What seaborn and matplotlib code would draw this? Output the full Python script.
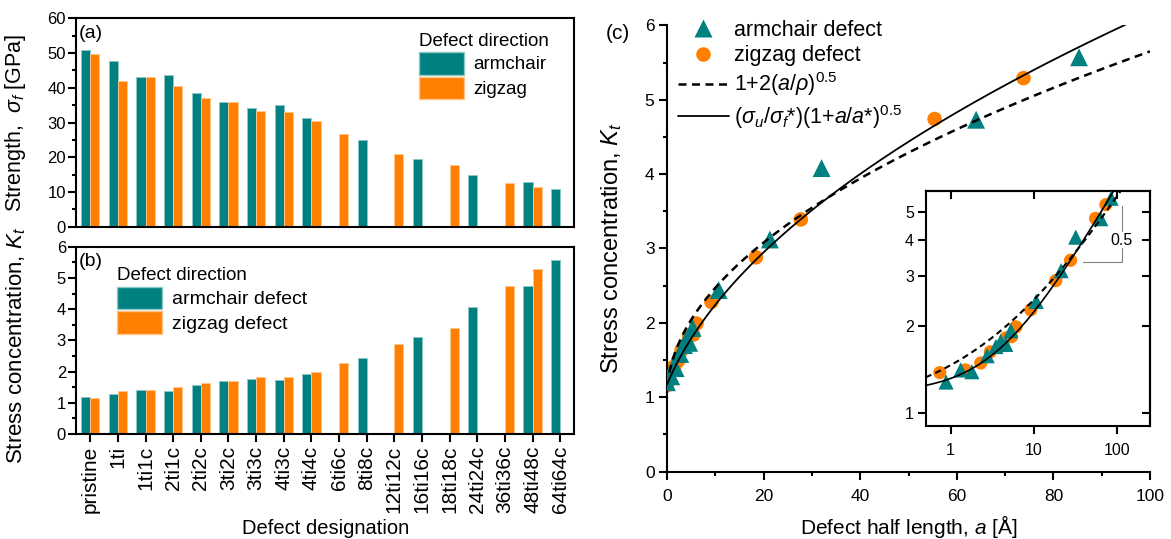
import numpy as np
import pandas as pd
import matplotlib
matplotlib.use("Agg")
import matplotlib.pyplot as plt
import seaborn as sns
from matplotlib.patches import Patch
from matplotlib.lines import Line2D
from matplotlib.ticker import MultipleLocator, FixedLocator, NullLocator, FixedFormatter
from matplotlib.colors import to_rgb

# ---------------- data ----------------
nan = np.nan
designations = ["pristine", "1ti", "1ti1c", "2ti1c", "2ti2c", "3ti2c", "3ti3c", "4ti3c",
                "4ti4c", "6ti6c", "8ti8c", "12ti12c", "16ti16c", "18ti18c", "24ti24c",
                "36ti36c", "48ti48c", "64ti64c"]
strength_armchair = [51.0, 47.8, 43.2, 43.7, 38.5, 35.9, 34.3, 35.1, 31.4, nan, 24.9, nan,
                     19.4, nan, 14.8, nan, 12.8, 10.8]
strength_zigzag = [49.7, 42.0, 43.0, 40.6, 37.2, 35.8, 33.3, 33.0, 30.4, 26.6, nan, 20.9,
                   nan, 17.8, nan, 12.7, 11.3, nan]
kt_armchair = [1.20, 1.28, 1.41, 1.39, 1.58, 1.70, 1.77, 1.73, 1.93, nan, 2.44, nan,
               3.12, nan, 4.08, nan, 4.73, 5.57]
kt_zigzag = [1.16, 1.38, 1.41, 1.49, 1.63, 1.70, 1.82, 1.84, 1.99, 2.28, nan, 2.88,
             nan, 3.39, nan, 4.74, 5.29, nan]
a_armchair = [0.0, 0.88, 1.32, 1.8, 2.75, 3.5, 4.0, 4.6, 5.3, nan, 10.7, nan,
              21.3, nan, 32.0, nan, 64.0, 85.3]
a_zigzag = [0.0, 0.74, 1.5, 2.3, 3.0, 3.9, 4.6, 5.4, 6.1, 9.2, nan, 18.4,
            nan, 27.7, nan, 55.4, 73.8, nan]

# fitted model parameters
RHO = 18.5        # notch radius for 1+2(a/rho)^0.5
KT0 = 1.17        # sigma_u / sigma_f*
A_STAR = 3.74     # a*

directions = ["armchair", "zigzag"]
TEAL = "#008080"
ORANGE = "#FF8000"
palette = {"armchair": TEAL, "zigzag": ORANGE}

# ---------------- style ----------------
sns.set_style("ticks")
plt.rcParams["font.family"] = ["Liberation Sans", "DejaVu Sans"]
plt.rcParams["mathtext.fontset"] = "custom"
plt.rcParams["mathtext.rm"] = "Liberation Sans"
plt.rcParams["mathtext.it"] = "Liberation Sans:italic"
plt.rcParams["mathtext.bf"] = "Liberation Sans:bold"
plt.rcParams["axes.linewidth"] = 1.5
for k in ("xtick.major.width", "ytick.major.width", "xtick.minor.width", "ytick.minor.width"):
    plt.rcParams[k] = 1.5
plt.rcParams["xtick.major.size"] = 5.5
plt.rcParams["ytick.major.size"] = 5.5
plt.rcParams["xtick.minor.size"] = 3
plt.rcParams["ytick.minor.size"] = 3
plt.rcParams["xtick.direction"] = "out"
plt.rcParams["ytick.direction"] = "out"
for k in ("text.color", "axes.edgecolor", "xtick.color", "ytick.color", "axes.labelcolor"):
    plt.rcParams[k] = "black"


def lighten(c, f=0.55):
    r, g, b = to_rgb(c)
    return (r + (1 - r) * f, g + (1 - g) * f, b + (1 - b) * f)


fig = plt.figure(figsize=(11.71, 5.39), dpi=100)
ax_a = fig.add_axes([0.0653, 0.5794, 0.4249, 0.3866])
ax_b = fig.add_axes([0.0653, 0.1948, 0.4249, 0.3475])
ax_c = fig.add_axes([0.5696, 0.1252, 0.4125, 0.8278])
ax_i = fig.add_axes([0.7905, 0.2096, 0.1915, 0.4360])

n = len(designations)
df_s = pd.DataFrame({"designation": designations * 2,
                     "direction": ["armchair"] * n + ["zigzag"] * n,
                     "value": strength_armchair + strength_zigzag})
df_k = pd.DataFrame({"designation": designations * 2,
                     "direction": ["armchair"] * n + ["zigzag"] * n,
                     "value": kt_armchair + kt_zigzag})

for ax, df in ((ax_a, df_s), (ax_b, df_k)):
    sns.barplot(data=df, x="designation", y="value", hue="direction",
                order=designations, hue_order=directions, palette=palette,
                width=0.66, saturation=1, errorbar=None, legend=False, ax=ax)
    for p in ax.patches:
        p.set_edgecolor(lighten(p.get_facecolor()))
        p.set_linewidth(0.7)
    ax.set_xlim(-0.5, n - 0.5)
    ax.set_xlabel("")
    for s in ax.spines.values():
        s.set_visible(True)
        s.set_linewidth(1.5)
    ax.tick_params(axis="y", which="both", labelsize=12, pad=2)

# panel (a)
ax_a.set_ylim(0, 60)
ax_a.yaxis.set_major_locator(MultipleLocator(10))
ax_a.yaxis.set_minor_locator(MultipleLocator(5))
ax_a.tick_params(axis="x", length=0, labelbottom=False)
ax_a.set_ylabel(r"Strength,  $\sigma_f$ [GPa]", fontsize=15.5)
ax_a.yaxis.set_label_coords(-0.0975, 0.5)
ax_a.text(0.004, 0.968, "(a)", transform=ax_a.transAxes, fontsize=14,
          ha="left", va="top")
ax_a.legend(handles=[Patch(facecolor=TEAL, edgecolor=lighten(TEAL)),
                     Patch(facecolor=ORANGE, edgecolor=lighten(ORANGE))],
            labels=["armchair", "zigzag"], title="Defect direction",
            loc="upper left", bbox_to_anchor=(0.688, 0.93), frameon=False,
            fontsize=13.5, title_fontsize=13.5, handlelength=2.4,
            handleheight=1.5, labelspacing=0.1, handletextpad=0.5,
            borderpad=0, borderaxespad=0, alignment="left")

# panel (b)
ax_b.set_ylim(0, 6)
ax_b.yaxis.set_major_locator(MultipleLocator(1))
ax_b.yaxis.set_minor_locator(MultipleLocator(0.5))
ax_b.set_xticks(range(n))
ax_b.set_xticklabels(designations, rotation=90, fontsize=15)
ax_b.tick_params(axis="x", pad=3)
ax_b.set_ylabel(r"Stress concentration, $K_t$", fontsize=16)
ax_b.yaxis.set_label_coords(-0.0975, 0.47)
ax_b.set_xlabel("Defect designation", fontsize=14.5)
ax_b.xaxis.set_label_coords(0.5, -0.452)
ax_b.xaxis.label.set_va("top")
ax_b.text(0.004, 0.968, "(b)", transform=ax_b.transAxes, fontsize=14,
          ha="left", va="top")
ax_b.legend(handles=[Patch(facecolor=TEAL, edgecolor=lighten(TEAL)),
                     Patch(facecolor=ORANGE, edgecolor=lighten(ORANGE))],
            labels=["armchair defect", "zigzag defect"], title="Defect direction",
            loc="upper left", bbox_to_anchor=(0.0824, 0.89), frameon=False,
            fontsize=14, title_fontsize=13.5, handlelength=2.3,
            handleheight=1.37, labelspacing=0.13, handletextpad=0.5,
            borderpad=0, borderaxespad=0, alignment="left")

# panel (c)
pts = pd.DataFrame({"a": a_armchair + a_zigzag, "kt": kt_armchair + kt_zigzag,
                    "direction": ["armchair"] * n + ["zigzag"] * n}).dropna()
arm = pts[pts.direction == "armchair"]
zig = pts[pts.direction == "zigzag"]

a_line = np.linspace(0, 100, 500)
a_dash = np.linspace(0.5, 100, 500)
kt_solid = KT0 * np.sqrt(1 + a_line / A_STAR)
kt_dash = 1 + 2 * np.sqrt(a_dash / RHO)

DASH = (0, (3.2, 2.2))
sns.scatterplot(data=zig, x="a", y="kt", marker="o", color=ORANGE, s=110,
                edgecolor="none", ax=ax_c, zorder=2, legend=False)
sns.scatterplot(data=arm, x="a", y="kt", marker="^", color=TEAL, s=165,
                edgecolor="none", ax=ax_c, zorder=3, legend=False)
ax_c.plot(a_dash, kt_dash, color="black", ls=DASH, lw=1.8, zorder=4)
ax_c.plot(a_line, kt_solid, color="black", ls="-", lw=1.3, zorder=4)
ax_c.set_xlim(0, 100)
ax_c.set_ylim(0, 6)
ax_c.xaxis.set_major_locator(MultipleLocator(20))
ax_c.xaxis.set_minor_locator(MultipleLocator(10))
ax_c.yaxis.set_major_locator(MultipleLocator(1))
ax_c.yaxis.set_minor_locator(MultipleLocator(0.5))
ax_c.spines["top"].set_visible(False)
ax_c.spines["right"].set_visible(False)
ax_c.tick_params(axis="both", which="both", labelsize=12.5)
ax_c.tick_params(axis="x", pad=7)
ax_c.set_xlabel(r"Defect half length, $a$ [Å]", fontsize=15)
ax_c.xaxis.set_label_coords(0.5, -0.094)
ax_c.xaxis.label.set_va("top")
ax_c.set_ylabel(r"Stress concentration, $K_t$", fontsize=17)
ax_c.yaxis.set_label_coords(-0.089, 0.5)
fig.text(0.517, 0.956, "(c)", fontsize=15, ha="left", va="top")

handles_c = [Line2D([], [], ls="none", marker="^", color=TEAL, markersize=13, mec="none"),
             Line2D([], [], ls="none", marker="o", color=ORANGE, markersize=10.5, mec="none"),
             Line2D([], [], color="black", ls=DASH, lw=1.8),
             Line2D([], [], color="black", ls="-", lw=1.3)]
labels_c = ["armchair defect", "zigzag defect", r"1+2($a$/$\rho$)$^{0.5}$",
            r"($\sigma_u$/$\sigma_f$*)(1+$a$/$a$*)$^{0.5}$"]
ax_c.legend(handles=handles_c, labels=labels_c, loc="upper left",
            bbox_to_anchor=(0.023, 1.012), frameon=False, fontsize=15.5,
            handlelength=2.35, handletextpad=0.25, labelspacing=0.2,
            borderpad=0, borderaxespad=0)

# inset
arm_i = arm[arm.a > 0]
zig_i = zig[zig.a > 0]
a_in = np.geomspace(0.5, 250, 400)
sns.scatterplot(data=zig_i, x="a", y="kt", marker="o", color=ORANGE, s=90,
                edgecolor="none", ax=ax_i, zorder=2, legend=False)
sns.scatterplot(data=arm_i, x="a", y="kt", marker="^", color=TEAL, s=120,
                edgecolor="none", ax=ax_i, zorder=3, legend=False)
ax_i.plot(a_in, 1 + 2 * np.sqrt(a_in / RHO), color="black", ls=(0, (3, 2)), lw=1.5, zorder=4)
ax_i.plot(a_in, KT0 * np.sqrt(1 + a_in / A_STAR), color="black", ls="-", lw=1.2, zorder=4)
ax_i.set_xscale("log")
ax_i.set_yscale("log")
ax_i.set_xlim(0.5, 250)
ax_i.set_ylim(0.9, 5.9)
ax_i.set_xlabel("")
ax_i.set_ylabel("")
ax_i.xaxis.set_major_locator(FixedLocator([1, 10, 100]))
ax_i.xaxis.set_major_formatter(FixedFormatter(["1", "10", "100"]))
ax_i.xaxis.set_minor_locator(NullLocator())
ax_i.yaxis.set_major_locator(FixedLocator([1, 2, 3, 4, 5]))
ax_i.yaxis.set_major_formatter(FixedFormatter(["1", "2", "3", "4", "5"]))
ax_i.yaxis.set_minor_locator(NullLocator())
ax_i.tick_params(axis="both", labelsize=11.5, pad=3)
ax_i.tick_params(axis="x", pad=7)
for s in ax_i.spines.values():
    s.set_visible(True)
    s.set_linewidth(1.5)
ax_i.set_facecolor("white")

sec_x = ax_i.secondary_xaxis("top")
sec_x.set_xticks([1, 10, 100])
sec_x.xaxis.set_minor_locator(NullLocator())
sec_x.tick_params(direction="in", labeltop=False, length=5.5, width=1.5)
sec_y = ax_i.secondary_yaxis("right")
sec_y.set_yticks([1, 2, 3, 4, 5])
sec_y.yaxis.set_minor_locator(NullLocator())
sec_y.tick_params(direction="in", labelright=False, length=5.5, width=1.5)

# slope indicator
SLOPE_X0, SLOPE_X1 = 39.5, 114
SLOPE_Y0, SLOPE_Y1 = 3.34, 5.25
ax_i.plot([SLOPE_X0, SLOPE_X1], [SLOPE_Y0, SLOPE_Y0], color="#808080", lw=0.8, zorder=1)
ax_i.plot([SLOPE_X1, SLOPE_X1], [SLOPE_Y0, SLOPE_Y1], color="#808080", lw=0.8, zorder=1)
ax_i.text(SLOPE_X1, 3.98, "0.5", fontsize=11.5, ha="center", va="center",
          bbox=dict(facecolor="white", edgecolor="none", pad=0.5), zorder=1.5)

fig.savefig("out.png", dpi=100)
